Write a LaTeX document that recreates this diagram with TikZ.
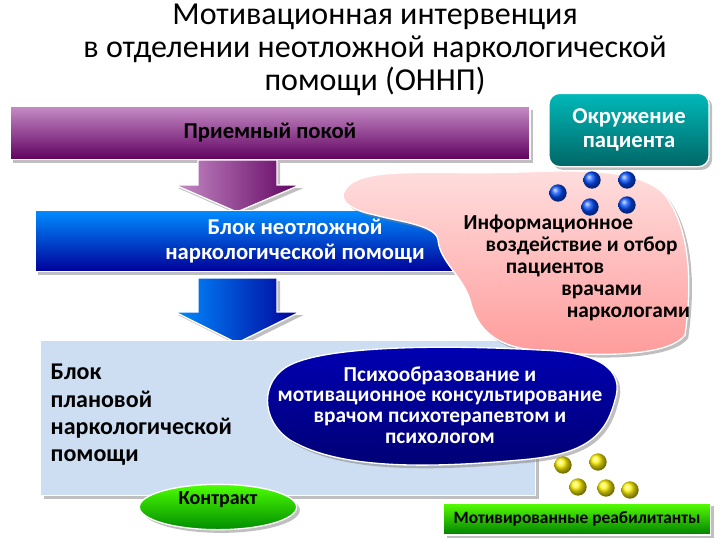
\documentclass[tikz,border=0pt]{standalone}
\usepackage{fontspec}
\setmainfont{Carlito}
\usetikzlibrary{shapes.arrows,shapes.geometric,shadows}
\definecolor{boxc}{RGB}{205,222,242}
\begin{document}
\begin{tikzpicture}[x=0.75pt,y=-0.75pt,
 ball/.style={circle,minimum size=13pt,inner sep=0pt,ball color=#1},
 txt/.style={font=\fontsize{17}{18.5}\selectfont\bfseries,align=center},
 arr/.style={draw=white,line width=1pt,drop shadow}]
\useasboundingbox (0,0) rectangle (720,540);
\node[font=\fontsize{24}{25}\selectfont,align=center] (title) at (375,50) {Мотивационная интервенция\\в отделении неотложной наркологической\\помощи (ОННП)};
\node[draw=white,line width=1pt,minimum width=390pt,minimum height=40pt,top color=violet!45,bottom color=violet!75!black,drop shadow] (bar1) at (270,133) {};
\node[txt] at (270,133) {Приемный покой};
\node[rounded corners=8pt,draw=white,line width=1pt,minimum width=120pt,minimum height=55pt,top color=teal!55!cyan,bottom color=teal!80!black,drop shadow,txt,text=white] (env) at (629,130) {Окружение\\пациента};
\path[arr,left color=violet!45,right color=violet!75!black] (198,160) -- (277,160) -- (277,185) -- (300,185) -- (237,212) -- (175,185) -- (198,185) -- cycle;
\node[draw=white,line width=1pt,minimum width=345pt,minimum height=46pt,top color=blue!45!cyan,bottom color=blue!60!black,drop shadow] (bar2) at (265,241) {};
\node[txt,text=white] at (295,241) {Блок неотложной\\наркологической помощи};
\path[arr,left color=blue!45!cyan,right color=blue!60!black] (198,278) -- (277,278) -- (277,312) -- (300,312) -- (237,343) -- (175,312) -- (198,312) -- cycle;
\node[draw=white,line width=1pt,minimum width=371pt,minimum height=116pt,fill=boxc,drop shadow] (box) at (288,418) {};
\node[txt,align=left,anchor=west,font=\fontsize{18}{20.5}\selectfont\bfseries] (plan) at (46,415) {Блок\\плановой\\наркологической\\помощи};
\draw[draw=white,line width=1pt,top color=pink!50,bottom color=red!40,drop shadow] (345,190) .. controls (360,165) and (430,175) .. (520,172) .. controls (580,170) and (640,168) .. (665,195) .. controls (695,235) and (690,300) .. (685,335) .. controls (665,362) and (560,355) .. (520,348) .. controls (485,340) and (475,320) .. (470,300) .. controls (462,275) and (440,262) .. (438,240) .. controls (436,225) and (400,222) .. (375,215) .. controls (350,210) and (338,200) .. (345,190) -- cycle;
\node[txt,font=\fontsize{16}{16.5}\selectfont\bfseries] (info) at (555,268) {\hspace*{-10pt}Информационное\\\hspace*{40pt}воздействие и отбор\\пациентов\\\hspace*{70pt}врачами\\\hspace*{110pt}наркологами};
\draw[draw=white,line width=1pt,top color=blue!70!black,bottom color=blue!45!black,drop shadow] (290,365) .. controls (330,345) and (450,345) .. (540,350) .. controls (600,352) and (625,370) .. (615,400) .. controls (605,440) and (580,455) .. (520,460) .. controls (430,468) and (340,470) .. (290,440) .. controls (260,420) and (260,380) .. (290,365) -- cycle;
\node[txt,text=white,font=\fontsize{16}{15.5}\selectfont\bfseries] (psy) at (440,405) {Психообразование и\\мотивационное консультирование\\врачом психотерапевтом и\\психологом};
\foreach \p in {(558,193),(592,180),(627,180),(590,207),(627,205)} \node[ball=blue!70!cyan] at \p {};
\foreach \p in {(563,465),(598,462),(578,487),(630,490),(606,488)} \node[ball=yellow!90!orange] at \p {};
\node[ellipse,draw=white,line width=1pt,minimum width=118pt,minimum height=34pt,top color=green!60!lime,bottom color=green!55!black,drop shadow] (con) at (218,507) {};
\node[txt,font=\fontsize{15}{16}\selectfont\bfseries] at (218,500) {Контракт};
\node[draw=white,line width=1pt,minimum width=200pt,minimum height=24pt,top color=green!55!lime,bottom color=green!50!black,drop shadow,font=\fontsize{13}{14}\selectfont\bfseries] (mot) at (577,519) {Мотивированные реабилитанты};
\end{tikzpicture}
\end{document}
